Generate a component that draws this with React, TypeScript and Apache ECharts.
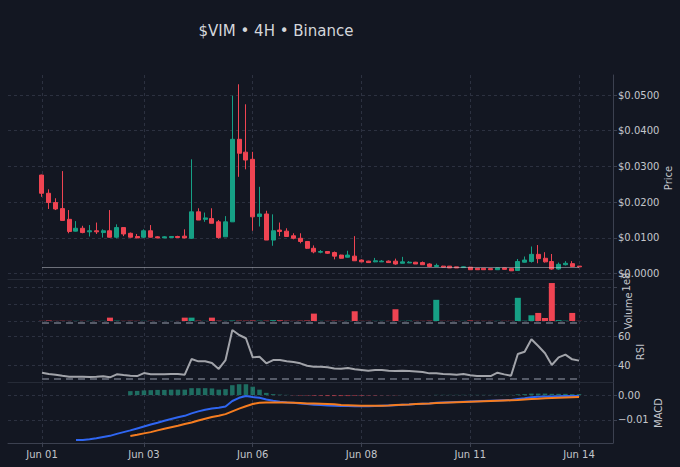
import React, { useEffect, useRef } from "react";
import * as echarts from "echarts";

const TITLE = "$VIM • 4H • Binance";
const tickIndex = [0, 15, 31, 47, 63, 79];
const tickLabels = ["Jun 01", "Jun 03", "Jun 06", "Jun 08", "Jun 11", "Jun 14"];

const opens = [
  0.0276, 0.0225, 0.0199, 0.0182, 0.0152, 0.0119, 0.0127, 0.0117, 0.0120, 0.0115,
  0.0120, 0.0102, 0.0129, 0.0113, 0.0104, 0.0102, 0.0120, 0.0103, 0.0100, 0.0101,
  0.0104, 0.0105, 0.0099, 0.0173, 0.0152, 0.0154, 0.0145, 0.0103, 0.0145, 0.0376,
  0.0340, 0.0320, 0.0160, 0.0167, 0.0094, 0.0122, 0.0119, 0.0106, 0.0099, 0.0090,
  0.0071, 0.0060, 0.0062, 0.0059, 0.0052, 0.0046, 0.0049, 0.0038, 0.0035, 0.0033,
  0.0033, 0.0035, 0.0035, 0.0029, 0.0030, 0.0032, 0.0031, 0.0027, 0.0020, 0.0021,
  0.0021, 0.0019, 0.0017, 0.0018, 0.0015, 0.0015, 0.0014, 0.0011, 0.0016, 0.0014,
  0.0009, 0.0032, 0.0034, 0.0054, 0.0043, 0.0034, 0.0013, 0.0025, 0.0028, 0.0021,
];
const closes = [
  0.0225, 0.0199, 0.0181, 0.0149, 0.0118, 0.0127, 0.0115, 0.0120, 0.0117, 0.0120,
  0.0102, 0.0129, 0.0111, 0.0102, 0.0100, 0.0120, 0.0102, 0.0100, 0.0103, 0.0104,
  0.0101, 0.0100, 0.0173, 0.0150, 0.0156, 0.0141, 0.0101, 0.0145, 0.0376, 0.0337,
  0.0318, 0.0159, 0.0167, 0.0094, 0.0120, 0.0118, 0.0104, 0.0099, 0.0090, 0.0071,
  0.0061, 0.0062, 0.0057, 0.0049, 0.0043, 0.0052, 0.0036, 0.0033, 0.0031, 0.0036,
  0.0035, 0.0031, 0.0027, 0.0033, 0.0032, 0.0027, 0.0025, 0.0020, 0.0023, 0.0018,
  0.0016, 0.0016, 0.0019, 0.0011, 0.0011, 0.0011, 0.0011, 0.0016, 0.0012, 0.0008,
  0.0034, 0.0038, 0.0054, 0.0042, 0.0033, 0.0013, 0.0026, 0.0029, 0.0020, 0.0019,
];
const lows = [
  0.0215, 0.0181, 0.0178, 0.0149, 0.0113, 0.0118, 0.0113, 0.0104, 0.0111, 0.0101,
  0.0101, 0.0099, 0.0105, 0.0101, 0.0100, 0.0099, 0.0101, 0.0099, 0.0100, 0.0100,
  0.0100, 0.0099, 0.0097, 0.0150, 0.0145, 0.0141, 0.0098, 0.0103, 0.0145, 0.0271,
  0.0292, 0.0120, 0.0132, 0.0094, 0.0078, 0.0105, 0.0104, 0.0096, 0.0085, 0.0069,
  0.0057, 0.0057, 0.0055, 0.0040, 0.0042, 0.0045, 0.0036, 0.0032, 0.0030, 0.0032,
  0.0033, 0.0031, 0.0025, 0.0029, 0.0030, 0.0027, 0.0025, 0.0018, 0.0020, 0.0018,
  0.0016, 0.0016, 0.0017, 0.0011, 0.0011, 0.0011, 0.0011, 0.0011, 0.0012, 0.0008,
  0.0009, 0.0031, 0.0031, 0.0029, 0.0031, 0.0011, 0.0011, 0.0023, 0.0019, 0.0017,
];
const highs = [
  0.0277, 0.0236, 0.0211, 0.0287, 0.0178, 0.0147, 0.0134, 0.0136, 0.0143, 0.0124,
  0.0178, 0.0138, 0.0129, 0.0115, 0.0111, 0.0124, 0.0136, 0.0105, 0.0105, 0.0105,
  0.0106, 0.0124, 0.0320, 0.0183, 0.0171, 0.0183, 0.0150, 0.0161, 0.0498, 0.0530,
  0.0474, 0.0341, 0.0243, 0.0176, 0.0166, 0.0143, 0.0127, 0.0113, 0.0113, 0.0090,
  0.0079, 0.0066, 0.0062, 0.0062, 0.0053, 0.0064, 0.0105, 0.0040, 0.0036, 0.0044,
  0.0038, 0.0037, 0.0042, 0.0047, 0.0035, 0.0033, 0.0034, 0.0029, 0.0028, 0.0022,
  0.0021, 0.0019, 0.0020, 0.0019, 0.0015, 0.0015, 0.0014, 0.0016, 0.0016, 0.0014,
  0.0041, 0.0048, 0.0076, 0.0080, 0.0060, 0.0055, 0.0031, 0.0035, 0.0035, 0.0021,
];
// volume in units of 1e8
const volumes = [
  0.01, 0.03, 0.01, 0.02, 0.01, 0.01, 0.01, 0.01, 0.01, 0.01,
  0.20, 0.02, 0.01, 0.01, 0.01, 0.01, 0.01, 0.005, 0.005, 0.005,
  0.005, 0.20, 0.20, 0.02, 0.01, 0.20, 0.02, 0.01, 0.03, 0.02,
  0.02, 0.03, 0.02, 0.02, 0.05, 0.04, 0.02, 0.01, 0.02, 0.03,
  0.44, 0.01, 0.01, 0.02, 0.01, 0.01, 0.58, 0.01, 0.01, 0.01,
  0.01, 0.01, 0.70, 0.01, 0.02, 0.01, 0.01, 0.02, 1.26, 0.01,
  0.01, 0.01, 0.01, 0.03, 0.01, 0.01, 0.01, 0.01, 0.01, 0.01,
  1.38, 0.02, 0.34, 0.48, 0.18, 2.26, 0.05, 0.02, 0.48, 0.01,
];
const rsi = [
  34.6, 33.6, 33.2, 32.4, 31.7, 31.7, 31.7, 31.5, 31.7, 32.0,
  31.3, 33.4, 32.9, 32.5, 32.2, 34.3, 33.4, 33.4, 33.4, 33.6,
  33.6, 33.2, 44.2, 42.6, 42.6, 41.4, 37.2, 43.5, 64.7, 61.2,
  58.9, 45.4, 45.9, 41.2, 43.5, 43.5, 42.6, 42.1, 41.2, 39.5,
  38.8, 38.8, 38.4, 37.6, 37.4, 37.9, 37.0, 36.5, 36.0, 36.5,
  36.5, 36.0, 35.8, 36.0, 35.8, 35.5, 35.1, 34.1, 34.1, 33.6,
  33.4, 33.2, 33.6, 32.7, 32.2, 32.2, 32.2, 34.6, 33.4, 32.4,
  47.8, 49.4, 58.2, 53.4, 48.3, 40.0, 45.4, 47.3, 44.0, 43.1,
];
const rsiLevels = [70, 30];
const macdLine = [
  null, null, null, null, null, -0.0182, -0.0182, -0.0179, -0.0175, -0.0170,
  -0.0165, -0.0157, -0.0150, -0.0143, -0.0135, -0.0127, -0.0119, -0.0112, -0.0104, -0.0097,
  -0.0090, -0.0084, -0.0074, -0.0066, -0.0059, -0.0054, -0.0051, -0.0046, -0.0024, -0.0011,
  -0.0004, -0.0008, -0.0011, -0.0018, -0.0023, -0.0027, -0.0030, -0.0031, -0.0034, -0.0036,
  -0.0039, -0.0040, -0.0042, -0.0043, -0.0044, -0.0044, -0.0045, -0.0045, -0.0045, -0.0044,
  -0.0043, -0.0042, -0.0041, -0.0039, -0.0038, -0.0036, -0.0035, -0.0034, -0.0031, -0.0030,
  -0.0029, -0.0028, -0.0027, -0.0026, -0.0025, -0.0024, -0.0023, -0.0022, -0.0021, -0.0020,
  -0.0016, -0.0013, -0.0009, -0.0007, -0.0006, -0.0006, -0.0005, -0.0004, -0.0004, -0.0004,
];
const signalLine = [
  null, null, null, null, null, null, null, null, null, null,
  null, null, null, -0.0166, -0.0161, -0.0155, -0.0150, -0.0143, -0.0136, -0.0130,
  -0.0124, -0.0117, -0.0111, -0.0103, -0.0096, -0.0089, -0.0084, -0.0077, -0.0066, -0.0055,
  -0.0045, -0.0036, -0.0031, -0.0030, -0.0030, -0.0030, -0.0030, -0.0031, -0.0032, -0.0034,
  -0.0034, -0.0035, -0.0036, -0.0037, -0.0040, -0.0041, -0.0042, -0.0043, -0.0043, -0.0043,
  -0.0043, -0.0042, -0.0040, -0.0039, -0.0038, -0.0036, -0.0035, -0.0034, -0.0032, -0.0031,
  -0.0030, -0.0029, -0.0028, -0.0027, -0.0026, -0.0025, -0.0024, -0.0023, -0.0022, -0.0021,
  -0.0020, -0.0018, -0.0016, -0.0015, -0.0013, -0.0012, -0.0011, -0.0010, -0.0009, -0.0008,
];
const macdHist = [
  null, null, null, null, null, null, null, null, null, null,
  null, null, null, 0.0016, 0.0017, 0.0019, 0.0020, 0.0021, 0.0021, 0.0022,
  0.0022, 0.0022, 0.0028, 0.0028, 0.0028, 0.0027, 0.0022, 0.0024, 0.0040, 0.0044,
  0.0044, 0.0034, 0.0022, 0.0009, 0.0004, 0.0002, 0.0001, -0.0001, -0.0002, -0.0002,
  -0.0003, -0.0003, -0.0004, -0.0004, -0.0004, -0.0004, -0.0003, -0.0003, -0.0002, -0.0002,
  -0.0001, -0.0001, -0.0001, 0.0000, 0.0000, 0.0000, 0.0000, 0.0000, 0.0001, 0.0001,
  0.0001, 0.0001, 0.0001, 0.0001, 0.0001, 0.0001, 0.0001, 0.0001, 0.0001, 0.0001,
  0.0003, 0.0004, 0.0006, 0.0006, 0.0006, 0.0005, 0.0005, 0.0005, 0.0004, 0.0004,
];
const priceTicks = [0, 0.01, 0.02, 0.03, 0.04, 0.05];
const volumeTicks = [0, 1, 2];
const rsiTicks = [40, 60];
const macdTicks = [-0.01, 0];

const BG = "#131722";
const UP = "#16a085";
const DOWN = "#ef4452";
const GRID = "#2c3140";
const AXIS = "#3c4150";
const TEXT = "#c3c6cc";
const FONT = "DejaVu Sans";
const PAD = 5;

export default function App() {
  const ref = useRef<HTMLDivElement>(null);
  useEffect(() => {
    if (!ref.current) return;
    const chart = echarts.init(ref.current, undefined, { renderer: "svg" });
    const N = opens.length;
    const cats = Array.from({ length: N + 2 * PAD }, (_, k) => String(k - PAD));
    const isTick = (idx: number) => tickIndex.includes(idx - PAD);
    const last = closes[N - 1];

    const grids = [
      { left: 8, right: 67, top: 75, height: 204 },
      { left: 8, right: 67, top: 279, height: 42 },
      { left: 8, right: 67, top: 321, height: 61 },
      { left: 8, right: 67, top: 382, height: 61 },
    ].map((g) => ({ ...g, containLabel: false, outerBoundsMode: "none" }));

    const xAxis = [0, 1, 2, 3].map((gi) => ({
      type: "category",
      gridIndex: gi,
      data: cats,
      boundaryGap: false,
      axisLine: {
        show: gi !== 1,
        onZero: false,
        lineStyle: { color: gi === 3 ? AXIS : "#262b37", width: 1 },
      },
      axisTick: {
        show: gi === 3,
        interval: (i: number) => isTick(i),
        length: 4,
        lineStyle: { color: AXIS },
      },
      axisLabel: {
        show: gi === 3,
        interval: (i: number) => isTick(i),
        formatter: (_v: string, i: number) => {
          const k = tickIndex.indexOf(i - PAD);
          return k >= 0 ? tickLabels[k] : "";
        },
        color: TEXT,
        fontSize: 10,
        fontFamily: FONT,
        margin: 6,
      },
      splitLine: {
        show: true,
        interval: (i: number) => isTick(i),
        lineStyle: { color: GRID, type: [3, 3], width: 1 },
      },
    }));

    const mkY = (gi: number, min: number, max: number, ticks: number[], fmt: ((v: number) => string) | null) => ({
      type: "value",
      gridIndex: gi,
      position: "right",
      min,
      max,
      scale: true,
      axisLine: { show: true, lineStyle: { color: AXIS } },
      axisTick: { show: true, length: 4, customValues: ticks, lineStyle: { color: AXIS } },
      axisLabel: {
        show: !!fmt,
        customValues: ticks,
        formatter: fmt ? (v: number) => fmt(v) : undefined,
        color: TEXT,
        fontSize: 10,
        fontFamily: FONT,
        margin: 5,
      },
      splitLine: { show: true, lineStyle: { color: GRID, type: [3, 3], width: 1 } },
    });

    const yAxis = [
      mkY(0, -0.0015, 0.0556, priceTicks, (v) => "$" + v.toFixed(4)),
      mkY(1, 0, 2.5, volumeTicks, null),
      mkY(2, 28, 71.1, rsiTicks, (v) => String(Math.round(v))),
      mkY(3, -0.0194, 0.0053, macdTicks, (v) => (v < -1e-9 ? "\u2212" + Math.abs(v).toFixed(2) : "0.00")),
    ];

    const pts = (arr: (number | null)[]) =>
      arr.map((v, i) => (v == null ? null : [i + PAD, v])).filter((p) => p !== null);

    const rsiMark = rsiLevels.map((lv) => [
      { coord: [PAD, lv] },
      { coord: [PAD + N - 1, lv] },
    ]);

    const vText = (text: string, x: number, y: number) => ({
      type: "text",
      x,
      y,
      rotation: Math.PI / 2,
      style: {
        text,
        fill: TEXT,
        font: `10px "${FONT}"`,
        textAlign: "center",
        textVerticalAlign: "middle",
      },
    });

    chart.setOption({
      animation: false,
      backgroundColor: BG,
      textStyle: { fontFamily: FONT },
      grid: grids,
      xAxis,
      yAxis,
      graphic: [
        {
          type: "text",
          x: 276,
          y: 31,
          style: {
            text: TITLE,
            fill: "#d4d6db",
            font: `15px "${FONT}"`,
            textAlign: "center",
            textVerticalAlign: "middle",
          },
        },
        vText("Price", 668, 178),
        vText("Volume", 628, 311),
        vText("1e8", 626, 282),
        vText("RSI", 640, 352),
        vText("MACD", 658, 413),
      ],
      series: [
        {
          type: "candlestick",
          xAxisIndex: 0,
          yAxisIndex: 0,
          barWidth: 4.5,
          data: opens.map((o, i) => [i + PAD, o, closes[i], lows[i], highs[i]]),
          encode: { x: 0, y: [1, 2, 3, 4] },
          itemStyle: { color: UP, color0: DOWN, borderColor: UP, borderColor0: DOWN, borderWidth: 1 },
          markLine: {
            silent: true,
            symbol: "none",
            label: { show: false },
            lineStyle: { color: "rgba(200,202,210,0.5)", width: 1, type: "solid" },
            data: [[{ coord: [PAD, last] }, { coord: [PAD + N - 1, last] }]],
          },
        },
        {
          type: "bar",
          xAxisIndex: 1,
          yAxisIndex: 1,
          barWidth: 6,
          data: volumes.map((v, i) => ({
            value: [i + PAD, v],
            itemStyle: { color: closes[i] >= opens[i] ? UP : DOWN },
          })),
        },
        {
          type: "line",
          xAxisIndex: 2,
          yAxisIndex: 2,
          data: pts(rsi),
          showSymbol: false,
          lineStyle: { color: "#a2a4aa", width: 2 },
          markLine: {
            silent: true,
            symbol: "none",
            label: { show: false },
            lineStyle: { color: "#565b68", width: 2, type: [7, 5] },
            data: rsiMark,
          },
        },
        {
          type: "bar",
          xAxisIndex: 3,
          yAxisIndex: 3,
          barWidth: 4.5,
          data: macdHist
            .map((v, i) =>
              v == null
                ? null
                : {
                    value: [i + PAD, v],
                    itemStyle: { color: v >= 0 ? "rgba(38,166,140,0.6)" : "rgba(239,68,82,0.6)" },
                  }
            )
            .filter((d) => d !== null),
        },
        {
          type: "line",
          xAxisIndex: 3,
          yAxisIndex: 3,
          data: pts(macdLine),
          showSymbol: false,
          lineStyle: { color: "#2f66f2", width: 2 },
        },
        {
          type: "line",
          xAxisIndex: 3,
          yAxisIndex: 3,
          data: pts(signalLine),
          showSymbol: false,
          lineStyle: { color: "#f57c1f", width: 2 },
        },
      ],
    });
    return () => chart.dispose();
  }, []);
  return (
    <div
      ref={ref}
      style={{ position: "fixed", left: 0, top: 0, width: 680, height: 467 }}
    />
  );
}
